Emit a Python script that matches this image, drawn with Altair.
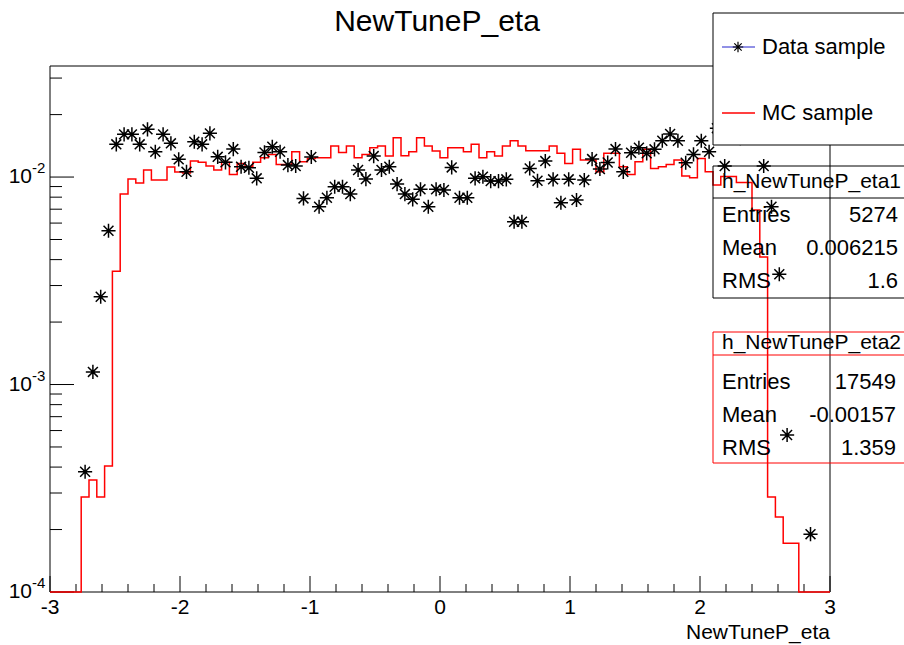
import altair as alt
import pandas as pd

# ---------------- data ----------------
x_min, x_max = -3.0, 3.0
n_bins = 100
y_min, y_max = 1e-4, 0.0343

data_sample = [
    0, 0, 0, 0, 3.80e-4, 1.15e-3, 2.65e-3, 5.51e-3, 1.438e-2, 1.606e-2,
    1.606e-2, 1.438e-2, 1.698e-2, 1.324e-2, 1.606e-2, 1.454e-2, 1.217e-2, 1.060e-2, 1.480e-2, 1.438e-2,
    1.624e-2, 1.252e-2, 1.177e-2, 1.364e-2, 1.121e-2, 1.109e-2, 9.86e-3, 1.315e-2, 1.400e-2, 1.324e-2,
    1.142e-2, 1.130e-2, 7.89e-3, 1.249e-2, 7.19e-3, 7.95e-3, 8.98e-3, 8.98e-3, 8.28e-3, 1.081e-2,
    9.78e-3, 1.262e-2, 1.081e-2, 1.121e-2, 9.25e-3, 8.28e-3, 7.81e-3, 8.73e-3, 7.19e-3, 8.73e-3,
    8.66e-3, 1.113e-2, 7.95e-3, 7.95e-3, 9.86e-3, 1.003e-2, 9.56e-3, 9.56e-3, 9.75e-3, 6.09e-3,
    6.09e-3, 1.101e-2, 9.60e-3, 1.194e-2, 9.75e-3, 7.52e-3, 9.75e-3, 7.75e-3, 9.67e-3, 1.221e-2,
    1.093e-2, 1.175e-2, 1.364e-2, 1.060e-2, 1.310e-2, 1.384e-2, 1.301e-2, 1.360e-2, 1.496e-2, 1.612e-2,
    1.496e-2, 1.172e-2, 1.286e-2, 1.496e-2, 1.324e-2, 1.72e-2, 1.130e-2, 1.78e-2, 1.54e-2, 1.69e-2,
    1.72e-2, 1.130e-2, 7.19e-3, 3.40e-3, 5.71e-4, 0, 0, 1.90e-4, 0, 0,
]

mc_sample = [
    0, 0, 0, 0, 2.87e-4, 3.47e-4, 2.87e-4, 4.05e-4, 3.52e-3, 8.28e-3,
    9.78e-3, 9.36e-3, 1.081e-2, 9.67e-3, 9.67e-3, 1.117e-2, 1.057e-2, 1.045e-2, 1.194e-2, 1.177e-2,
    1.130e-2, 1.081e-2, 1.177e-2, 1.030e-2, 1.164e-2, 1.121e-2, 1.177e-2, 1.239e-2, 1.286e-2, 1.151e-2,
    1.151e-2, 1.324e-2, 1.185e-2, 1.230e-2, 1.239e-2, 1.239e-2, 1.411e-2, 1.315e-2, 1.411e-2, 1.239e-2,
    1.286e-2, 1.384e-2, 1.411e-2, 1.262e-2, 1.547e-2, 1.267e-2, 1.324e-2, 1.547e-2, 1.411e-2, 1.335e-2,
    1.239e-2, 1.384e-2, 1.384e-2, 1.324e-2, 1.438e-2, 1.239e-2, 1.324e-2, 1.262e-2, 1.411e-2, 1.496e-2,
    1.411e-2, 1.339e-2, 1.339e-2, 1.339e-2, 1.411e-2, 1.301e-2, 1.164e-2, 1.360e-2, 1.208e-2, 1.208e-2,
    1.060e-2, 1.301e-2, 1.301e-2, 1.121e-2, 1.030e-2, 1.185e-2, 1.360e-2, 1.101e-2, 1.121e-2, 1.151e-2,
    1.208e-2, 1.011e-2, 9.92e-3, 1.230e-2, 1.060e-2, 9.15e-3, 1.006e-2, 1.006e-2, 9.41e-3, 9.41e-3,
    6.93e-3, 4.12e-3, 2.87e-4, 2.30e-4, 1.72e-4, 1.72e-4, 0, 0, 0, 0,
]

x_major_ticks = [-3, -2, -1, 0, 1, 2, 3]
x_tick_labels = ["-3", "-2", "-1", "0", "1", "2", "3"]
y_major_ticks = [1e-4, 1e-3, 1e-2]
y_label_base = ["10", "10", "10"]
y_label_exp = ["-4", "-3", "-2"]

title_text = "NewTuneP_eta"
x_title = "NewTuneP_eta"
legend_labels = ["Data sample", "MC sample"]
stat_names = ["Entries", "Mean", "RMS"]
stat1_header = "h_NewTuneP_eta1"
stat1_values = ["5274", "0.006215", "1.6"]
stat2_header = "h_NewTuneP_eta2"
stat2_values = ["17549", "-0.00157", "1.359"]

# ---------------- derived tables ----------------
W, H = 780, 526
FONT = "Liberation Sans"
bw = (x_max - x_min) / n_bins
edges = [x_min + bw * i for i in range(n_bins + 1)]
centers = [x_min + bw * (i + 0.5) for i in range(n_bins)]

mc_draw = [max(v, y_min) for v in mc_sample]
mc_df = pd.DataFrame({"x": edges, "y": mc_draw + [mc_draw[-1]]})
data_df = pd.DataFrame({"x": centers, "y": data_sample})
data_df = data_df[data_df["y"] > 0]

x_minor = [round(x_min + 0.2 * i, 1) for i in range(31)]
x_minor = [v for v in x_minor if abs(v - round(v)) > 1e-6]
y_minor = [m * 10.0 ** e for e in (-4, -3, -2) for m in range(2, 10) if m * 10.0 ** e <= y_max]

xs = alt.Scale(domain=[x_min, x_max], nice=False, zero=False)
ys = alt.Scale(type="log", domain=[y_min, y_max], nice=False)
X = lambda f="x": alt.X(f"{f}:Q", scale=xs, axis=None)
Y = lambda f="y": alt.Y(f"{f}:Q", scale=ys, axis=None)

STAR = "M-1,0L1,0M0,-1L0,1M-0.7,-0.7L0.7,0.7M-0.7,0.7L0.7,-0.7"
one = pd.DataFrame({"t": [""]})


def txt(s, x, y, size=20, align="left", color="black", baseline="middle"):
    return alt.Chart(pd.DataFrame({"t": [s]})).mark_text(
        align=align, baseline=baseline, fontSize=size, font=FONT, color=color
    ).encode(x=alt.value(x), y=alt.value(y), text="t:N")


def rule(x1, y1, x2, y2, color="black", width=1.0):
    return alt.Chart(one).mark_rule(color=color, strokeWidth=width).encode(
        x=alt.value(x1), y=alt.value(y1), x2=alt.value(x2), y2=alt.value(y2)
    )


def box(x1, y1, x2, y2, stroke, fill=None):
    kw = dict(stroke=stroke, strokeWidth=1)
    if fill:
        kw["fill"] = fill
    else:
        kw["fillOpacity"] = 0
        kw["fill"] = "white"
    return alt.Chart(one).mark_rect(**kw).encode(
        x=alt.value(x1), x2=alt.value(x2), y=alt.value(y1), y2=alt.value(y2)
    )


layers = []

# frame
layers += [rule(0, 0, W, 0), rule(0, H, W, H), rule(0, 0, 0, H), rule(W, 0, W, H)]

# ticks (inward, ROOT style)
layers.append(alt.Chart(pd.DataFrame({"x": x_major_ticks})).mark_rule(color="black")
              .encode(x=X(), y=alt.value(H), y2=alt.value(H - 16)))
layers.append(alt.Chart(pd.DataFrame({"x": x_minor})).mark_rule(color="black")
              .encode(x=X(), y=alt.value(H), y2=alt.value(H - 8)))
layers.append(alt.Chart(pd.DataFrame({"y": y_major_ticks})).mark_rule(color="black")
              .encode(y=Y(), x=alt.value(0), x2=alt.value(24)))
layers.append(alt.Chart(pd.DataFrame({"y": y_minor})).mark_rule(color="black")
              .encode(y=Y(), x=alt.value(0), x2=alt.value(12)))

# tick labels
layers.append(alt.Chart(pd.DataFrame({"x": x_major_ticks, "label": x_tick_labels}))
              .mark_text(baseline="top", fontSize=21, font=FONT, color="black")
              .encode(x=X(), y=alt.value(H + 5), text="label:N"))
ylab = pd.DataFrame({"y": y_major_ticks, "base": y_label_base, "exp": y_label_exp})
layers.append(alt.Chart(ylab).mark_text(align="right", baseline="middle", fontSize=21, font=FONT, color="black")
              .encode(y=Y(), x=alt.value(-18), text="base:N"))
layers.append(alt.Chart(ylab).mark_text(align="left", baseline="middle", fontSize=15, font=FONT, color="black", dy=-9)
              .encode(y=Y(), x=alt.value(-18), text="exp:N"))

# MC histogram (step line)
layers.append(alt.Chart(mc_df).mark_line(interpolate="step-after", color="#ff0000", strokeWidth=1.5)
              .encode(x=X(), y=Y()))

# data points (asterisk markers)
layers.append(alt.Chart(data_df).mark_point(shape=STAR, size=200, filled=False, color="black", strokeWidth=1.5, opacity=1)
              .encode(x=X(), y=Y()))

# titles
layers.append(txt(title_text, 387, -44, size=30, align="center"))
layers.append(txt(x_title, W, 567, size=21, align="right"))

# legend
layers.append(box(663, -53, 856, 79, "black", fill="white"))
layers.append(rule(672, -19, 705, -19, color="#2222cc", width=1))
layers.append(alt.Chart(one).mark_point(shape=STAR, size=110, filled=False, color="black", strokeWidth=1.2, opacity=1)
              .encode(x=alt.value(688), y=alt.value(-19)))
layers.append(txt(legend_labels[0], 712, -19, size=22))
layers.append(rule(672, 47, 705, 47, color="#ff0000", width=1.3))
layers.append(txt(legend_labels[1], 712, 47, size=22))

# stats box 1
layers.append(box(663, 100, 856, 232, "black"))
layers.append(rule(663, 132, 856, 132))
layers.append(txt(stat1_header, 672, 116, size=21))
for i, (n, v) in enumerate(zip(stat_names, stat1_values)):
    layers.append(txt(n, 672, 149 + 33 * i, size=22))
    layers.append(txt(v, 848, 149 + 33 * i, size=22, align="right"))

# stats box 2
layers.append(box(663, 266, 856, 397, "#ff0000"))
layers.append(rule(663, 289, 856, 289, color="#ff0000"))
layers.append(txt(stat2_header, 672, 277, size=21))
for i, (n, v) in enumerate(zip(stat_names, stat2_values)):
    layers.append(txt(n, 672, 316 + 33 * i, size=22))
    layers.append(txt(v, 846, 316 + 33 * i, size=22, align="right"))

chart = alt.layer(*layers).properties(
    width=W, height=H,
    autosize=alt.AutoSizeParams(type="none"),
    padding={"left": 50, "top": 66, "right": 74, "bottom": 53},
    background="white",
).configure_view(stroke=None)

chart.save("out.html", embed_options={"renderer": "svg", "actions": False})
